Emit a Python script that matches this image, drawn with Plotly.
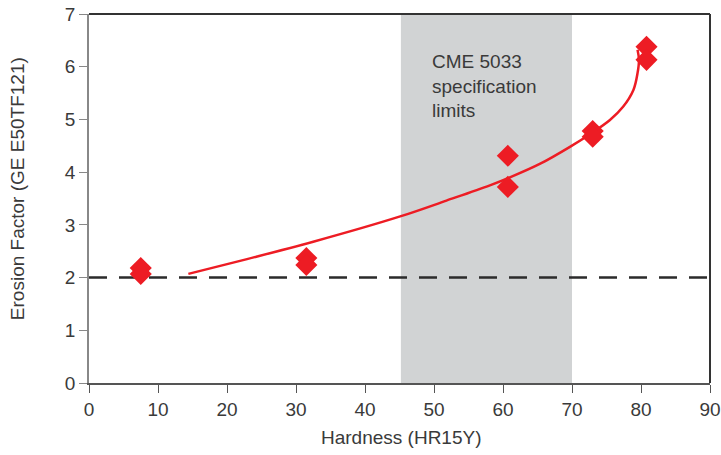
import plotly.graph_objects as go

# Measured data points
hardness = [7.5, 7.5, 31.5, 31.5, 60.7, 60.7, 73.0, 73.0, 80.8, 80.8]
erosion = [2.18, 2.07, 2.37, 2.24, 4.31, 3.72, 4.78, 4.67, 6.38, 6.13]

# Trend curve
curve_x = [14.4, 22.9, 32.5, 45.1, 51.8, 58.1, 61.0, 65.4, 69.7, 72.6, 75.5, 77.4, 78.9, 79.5, 79.7, 79.5]
curve_y = [2.07, 2.35, 2.68, 3.16, 3.46, 3.75, 3.90, 4.16, 4.48, 4.72, 4.99, 5.24, 5.56, 5.88, 6.13, 6.32]

spec_limits = [45.2, 70.0]
reference_level = 2.0

x_ticks = [0, 10, 20, 30, 40, 50, 60, 70, 80, 90]
y_ticks = [0, 1, 2, 3, 4, 5, 6, 7]

RED = "#ED1C24"
TXT = "#3a3a3a"
FONT = "Liberation Sans"
FS = 19

fig = go.Figure()

fig.add_shape(type="rect", xref="x", yref="y",
              x0=spec_limits[0], x1=spec_limits[1], y0=0, y1=7,
              fillcolor="#D1D3D4", line_width=0, layer="below")

fig.add_trace(go.Scatter(x=[0, 90], y=[reference_level, reference_level], mode="lines",
                         line=dict(color="#2b2b2b", width=2.5, dash="18px,12px"),
                         hoverinfo="skip", showlegend=False))

fig.add_trace(go.Scatter(x=curve_x, y=curve_y, mode="lines",
                         line=dict(color=RED, width=2.5, shape="spline", smoothing=1.0),
                         showlegend=False))

fig.add_trace(go.Scatter(x=hardness, y=erosion, mode="markers",
                         marker=dict(symbol="diamond", size=17, color=RED, line_width=0),
                         showlegend=False))

fig.add_annotation(x=49.4, y=6.34, xref="x", yref="y", xanchor="left", yanchor="top",
                   text="CME 5033<br>specification<br>limits", showarrow=False, align="left",
                   font=dict(family=FONT, size=FS, color=TXT))

# axis titles
fig.add_annotation(x=0.504, y=-0.149, xref="paper", yref="paper", xanchor="center", yanchor="middle",
                   text="Hardness (HR15Y)", showarrow=False,
                   font=dict(family=FONT, size=FS, color=TXT))
fig.add_annotation(x=-0.116, y=0.528, xref="paper", yref="paper", xanchor="center", yanchor="middle",
                   text="Erosion Factor (GE E50TF121)", showarrow=False, textangle=-90,
                   font=dict(family=FONT, size=FS, color=TXT))

# top and right frame lines
fig.add_shape(type="line", xref="paper", yref="paper", x0=0, x1=1, y0=1, y1=1,
              line=dict(color="#333333", width=2))
fig.add_shape(type="line", xref="paper", yref="paper", x0=1, x1=1, y0=0, y1=1,
              line=dict(color="#333333", width=2))

fig.update_layout(
    width=721, height=455,
    margin=dict(l=89, r=11, t=14, b=72),
    plot_bgcolor="white", paper_bgcolor="white",
    font=dict(family=FONT, size=FS, color=TXT),
    xaxis=dict(range=[0, 90], tickvals=x_ticks, showgrid=False, zeroline=False, automargin=False,
               showline=True, linecolor="#555555", linewidth=1.5,
               ticks="outside", ticklen=8, tickcolor="#555555", tickwidth=1,
               tickfont=dict(size=FS, color=TXT)),
    yaxis=dict(range=[0, 7], tickvals=y_ticks, showgrid=False, zeroline=False, automargin=False,
               showline=True, linecolor="#888888", linewidth=1.5,
               ticks="outside", ticklen=8, tickcolor="#888888", tickwidth=1,
               tickfont=dict(size=FS, color=TXT)),
)

fig.write_html("out.html", config={"displayModeBar": False},
               post_script="document.body.style.margin='0';document.body.style.overflow='hidden';")
